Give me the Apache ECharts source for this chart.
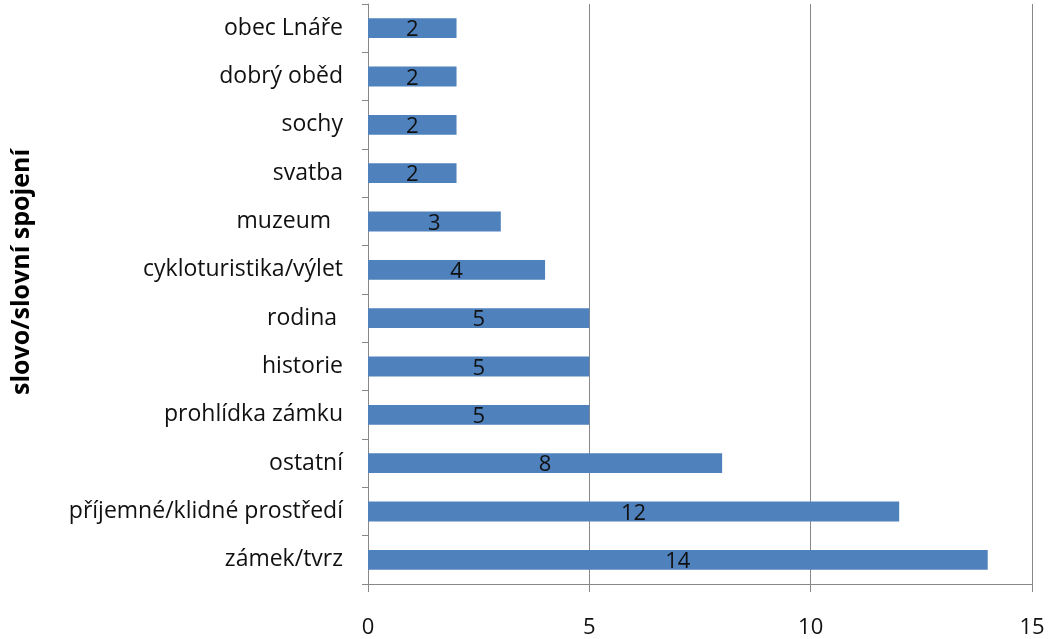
<!DOCTYPE html>
<html><head><meta charset="utf-8">
<script src="https://cdn.jsdelivr.net/npm/echarts@6/dist/echarts.min.js"></script>
<style>html,body{margin:0;padding:0;background:#fff}#c{width:1051px;height:639px}</style>
</head><body><div id="c"></div>
<script>
const categories = ['zámek/tvrz','příjemné/klidné prostředí','ostatní','prohlídka zámku','historie','rodina ','cykloturistika/výlet','muzeum  ','svatba','sochy','dobrý oběd','obec Lnáře'];
const values = [14,12,8,5,5,5,4,3,2,2,2,2];
const axisTitle = 'slovo/slovní spojení';
const FONT = '"Open Sans", sans-serif';
const chart = echarts.init(document.getElementById('c'));
chart.setOption({
  animation:false,
  grid:{left:368,right:19,top:4,bottom:53},
  xAxis:{type:'value',min:0,max:15,interval:5,
    axisLine:{show:true,lineStyle:{color:'#888',width:1}},
    axisTick:{show:true,length:8,lineStyle:{color:'#888'}},
    splitLine:{show:true,lineStyle:{color:'#888',width:1}},
    axisLabel:{fontFamily:FONT,fontSize:22,color:'#111',margin:33}},
  yAxis:{type:'category',data:categories,
    axisLine:{show:true,lineStyle:{color:'#888',width:1}},
    axisTick:{show:true,length:6,lineStyle:{color:'#888'}},
    axisLabel:{fontFamily:FONT,fontSize:23,color:'#111',margin:25}},
  graphic:[{type:'text',rotation:Math.PI/2,x:22,y:272,
    style:{text:axisTitle,font:'bold 25px '+FONT,fill:'#000',align:'center',verticalAlign:'middle'}}],
  series:[{type:'bar',data:values,barCategoryGap:'59%',
    itemStyle:{color:'#4F81BD'},
    label:{show:true,position:'inside',fontFamily:FONT,fontSize:22,color:'#111',offset:[0,2]}}]
});
</script></body></html>
